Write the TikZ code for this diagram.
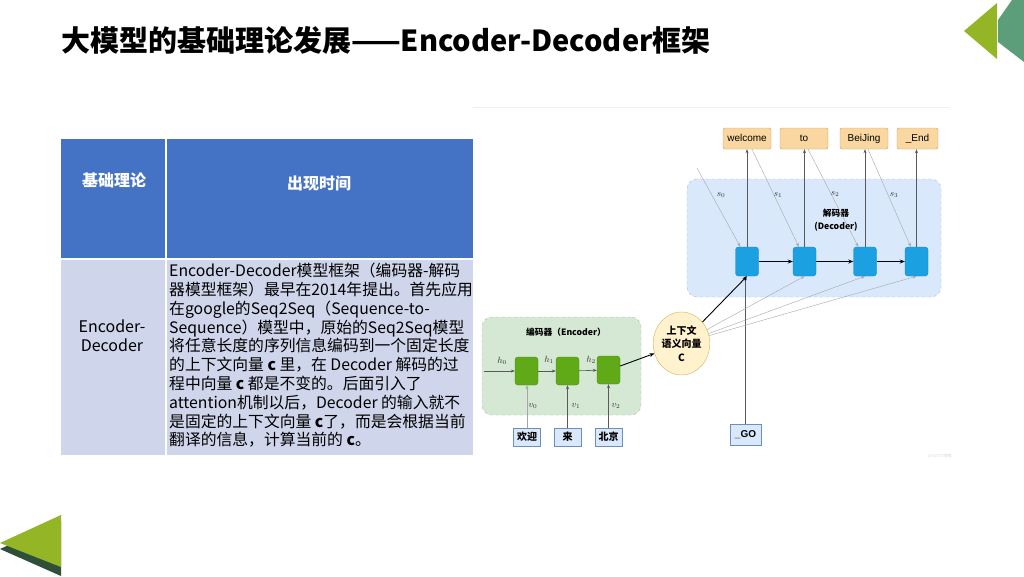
\documentclass[tikz,border=0pt]{standalone}
\usepackage{fontspec}
\setmainfont{Noto Sans CJK SC}
\newfontfamily\arialf{Liberation Sans}
\usetikzlibrary{arrows.meta,shapes.geometric,calc}
\definecolor{hdrblue}{HTML}{4472C4}
\definecolor{bodyblue}{HTML}{CFD5EA}
\definecolor{triyg}{HTML}{93B526}
\definecolor{triteal}{HTML}{5C9E7A}
\definecolor{trishadow}{HTML}{2F4F3A}
\definecolor{outfill}{HTML}{FAD7A0}
\definecolor{outdraw}{HTML}{C9A060}
\definecolor{decreg}{HTML}{DAE8FC}
\definecolor{decregdraw}{HTML}{A8BFDD}
\definecolor{decfill}{HTML}{1BA1E2}
\definecolor{decdraw}{HTML}{1588C0}
\definecolor{encreg}{HTML}{D5E8D4}
\definecolor{encregdraw}{HTML}{9DC39A}
\definecolor{encfill}{HTML}{60A917}
\definecolor{encdraw}{HTML}{4D8A12}
\definecolor{cfill}{HTML}{FFF2CC}
\definecolor{cdraw}{HTML}{D6B656}
\definecolor{inbfill}{HTML}{DAE8FC}
\definecolor{inbdraw}{HTML}{6C8EBF}
\begin{document}
\begin{tikzpicture}[x=1pt,y=-1pt,
  outbox/.style={draw=outdraw, fill=outfill, rounded corners=2pt, minimum width=48pt, minimum height=21pt, inner sep=0pt, text height=7.2pt, text depth=2pt, font=\arialf\fontsize{10}{11}\selectfont},
  deccell/.style={draw=decdraw, fill=decfill, rounded corners=3pt, minimum width=23pt, minimum height=29pt, inner sep=0pt},
  enccell/.style={draw=encdraw, fill=encfill, rounded corners=3pt, minimum width=23pt, minimum height=28pt, inner sep=0pt},
  inbox/.style={draw=inbdraw, fill=inbfill, minimum width=27pt, minimum height=18pt, inner sep=0pt, font=\bfseries\fontsize{10}{11}\selectfont},
  blackarrow/.style={draw=black, line width=0.9pt, -{Stealth[length=5pt,width=4pt]}},
  grayarrow/.style={draw=black!35, line width=0.4pt, -{Stealth[length=4pt,width=3pt]}},
  darkarrow/.style={draw=black!65, line width=0.6pt, -{Stealth[length=4pt,width=3pt]}},
  lbl/.style={font=\fontsize{9}{10}\selectfont, text=black!80, inner sep=0pt},
  regionlbl/.style={font=\bfseries\fontsize{8.7}{13}\selectfont, align=center, inner sep=0pt}]
\useasboundingbox (0,0) rectangle (1024,576);
\fill[white] (0,0) rectangle (1024,576);
% corner decorations
\fill[triteal] (998,20) -- (1012,0) -- (1024,0) -- (1024,62) -- (998,42) -- cycle;
\fill[triyg] (964,31) -- (997,3) -- (997,59) -- cycle;
\fill[trishadow] (0,549) -- (61,521) -- (61,576) -- cycle;
\fill[triyg] (0,543) -- (61,515) -- (61,567) -- cycle;
% title
\node[anchor=west, inner sep=0pt, font=\bfseries\fontsize{29}{31}\selectfont] (title) at (61,40) {大模型的基础理论发展——Encoder-Decoder框架};
% table
\fill[hdrblue] (61,139) rectangle (165,258);
\fill[hdrblue] (166.5,139) rectangle (473,258);
\fill[bodyblue] (61,260) rectangle (165,455);
\fill[bodyblue] (166.5,260) rectangle (473,455);
\node[font=\bfseries\fontsize{16}{18}\selectfont, text=white] (th1) at (114,180) {基础理论};
\node[font=\bfseries\fontsize{16}{18}\selectfont, text=white] (th2) at (319,183) {出现时间};
\node[font=\fontsize{16}{19}\selectfont, align=center] (tb1) at (112,336) {Encoder-\\Decoder};
\node[anchor=north west, inner sep=0pt, align=left, font=\fontsize{15.8}{18.8}\selectfont] (tb2) at (169,263) {Encoder-Decoder模型框架（编码器-解码\\器模型框架）最早在2014年提出。首先应用\\在google的Seq2Seq（Sequence-to-\\Sequence）模型中，原始的Seq2Seq模型\\将任意长度的序列信息编码到一个固定长度\\的上下文向量 \textbf{c} 里，在 Decoder 解码的过\\程中向量 \textbf{c} 都是不变的。后面引入了\\attention机制以后，Decoder 的输入就不\\是固定的上下文向量 \textbf{c}了，而是会根据当前\\翻译的信息，计算当前的 \textbf{c}。};
% diagram frame line
\draw[black!6, line width=0.8pt] (473,107) -- (950,107);
% regions
\node[draw=decregdraw, fill=decreg, dashed, rounded corners=10pt, minimum width=254pt, minimum height=118pt, inner sep=0pt] (decregion) at (814,238) {};
\node[draw=encregdraw, fill=encreg, dashed, rounded corners=10pt, minimum width=159pt, minimum height=98pt, inner sep=0pt] (encregion) at (561.5,366) {};
\node[regionlbl] (declbl) at (836,220) {解码器\\(Decoder)};
\node[regionlbl] (enclbl) at (566,332) {编码器（Encoder）};
% output boxes
\node[outbox] (o1) at (747,138.5) {welcome};
\node[outbox] (o2) at (804,138.5) {to};
\node[outbox] (o3) at (864,138.5) {BeiJing};
\node[outbox, minimum width=41pt] (o4) at (917.5,138.5) {\_End};
% decoder cells
\node[deccell] (d1) at (747,261.5) {};
\node[deccell] (d2) at (804.5,261.5) {};
\node[deccell] (d3) at (865,261.5) {};
\node[deccell] (d4) at (916.5,261.5) {};
% encoder cells
\node[enccell] (e1) at (526.5,371) {};
\node[enccell] (e2) at (567.5,371) {};
\node[enccell] (e3) at (608.5,370) {};
% context vector
\node[ellipse, draw=cdraw, fill=cfill, minimum width=47pt, minimum height=63pt, inner sep=0pt, align=center, font=\bfseries\fontsize{10}{13.5}\selectfont] (c) at (681.5,343.5) {上下文\\语义向量\\C};
% inputs
\node[inbox] (i1) at (527,437) {欢迎};
\node[inbox] (i2) at (567.5,437) {来};
\node[inbox] (i3) at (608.5,437) {北京};
\node[inbox, minimum width=31pt, minimum height=21pt, font=\arialf\bfseries\fontsize{10}{11}\selectfont] (go) at (745.5,434.5) {\_GO};
% watermark
\node[font=\fontsize{4}{5}\selectfont, text=black!15, inner sep=0pt] (wm) at (940,456) {@51CTO博客};
% coordinates
\coordinate (s0start) at (697,168);
\coordinate (h0start) at (484,371);
% decoder connectors
\draw[blackarrow] (d1) -- (d2);
\draw[blackarrow] (d2) -- (d3);
\draw[blackarrow] (d3) -- (d4);
\draw[darkarrow] (d1.north) -- (d1.north |- o1.south);
\draw[darkarrow] (d2.north) -- (d2.north |- o2.south);
\draw[darkarrow] (d3.north) -- (d3.north |- o3.south);
\draw[darkarrow] (d4.north) -- (d4.north |- o4.south);
\draw[grayarrow] (s0start) -- ($(d1.north west)+(5,0)$);
\draw[grayarrow] ($(o1.south)+(5,0)$) -- ($(d2.north west)+(6,0)$);
\draw[grayarrow] ($(o2.south)+(4,0)$) -- ($(d3.north west)+(5,0)$);
\draw[grayarrow] ($(o3.south)+(4,0)$) -- ($(d4.north west)+(6,0)$);
\node[lbl] (ls0) at (721,195) {$s_0$};
\node[lbl] (ls1) at (778,195) {$s_1$};
\node[lbl] (ls2) at (835,194) {$s_2$};
\node[lbl] (ls3) at (894,195) {$s_3$};
% go and context to decoder
\draw[darkarrow] (go.north) -- (go.north |- d1.south);
\draw[grayarrow] (c) -- (d2.south);
\draw[grayarrow] (c) -- (d3.south);
\draw[grayarrow] (c) -- (d4.south);
\draw[blackarrow] (c) -- (d1.south);
% encoder connectors
\draw[darkarrow] (h0start) -- (e1.west);
\draw[darkarrow] (e1) -- (e2);
\draw[darkarrow] (e2) -- (e3);
\draw[blackarrow] ($(e3.east)+(0,-4)$) -- (c);
\node[lbl] (lh0) at (502,361) {$h_0$};
\node[lbl] (lh1) at (549,360) {$h_1$};
\node[lbl] (lh2) at (591,360) {$h_2$};
\draw[grayarrow] (i1.north) -- (i1.north |- e1.south);
\draw[darkarrow] (i2.north) -- (i2.north |- e2.south);
\draw[darkarrow] (i3.north) -- (i3.north |- e3.south);
\node[lbl] (lv0) at (533,406) {$v_0$};
\node[lbl] (lv1) at (576,406) {$v_1$};
\node[lbl] (lv2) at (616,406) {$v_2$};
\end{tikzpicture}
\end{document}
